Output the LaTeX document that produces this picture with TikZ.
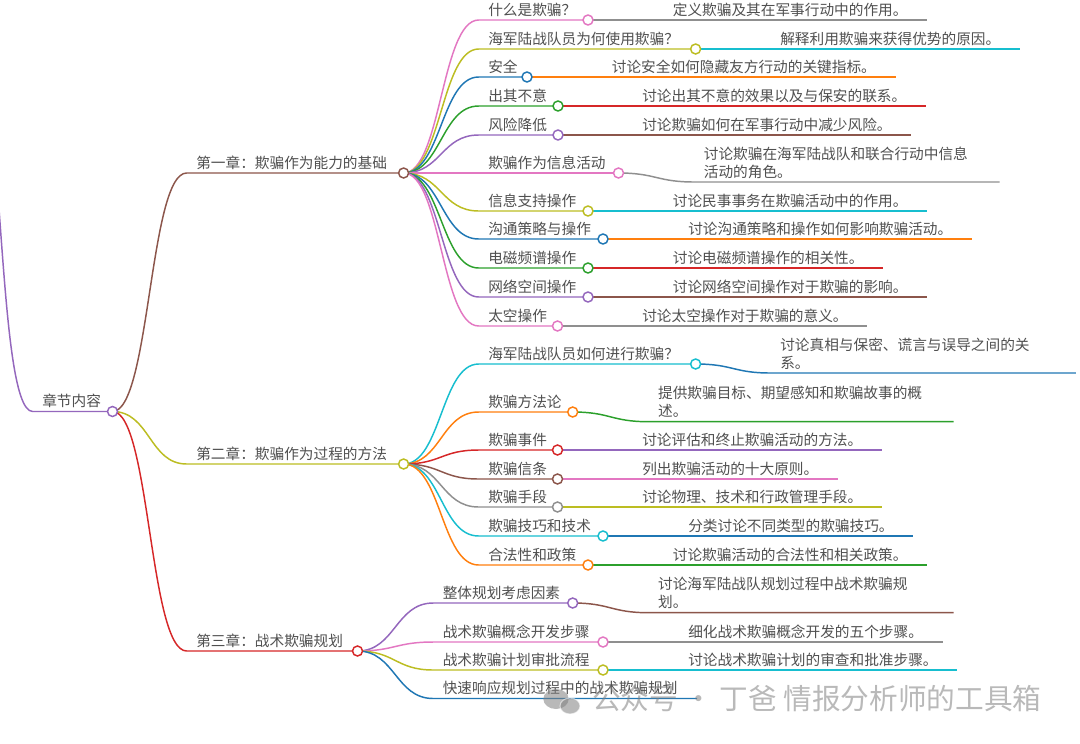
\documentclass[tikz,border=0pt]{standalone}
\usepackage{fontspec}
\newfontfamily\cjk{Noto Sans CJK SC}
\usetikzlibrary{backgrounds}

\definecolor{cblue}{HTML}{1F77B4}
\definecolor{corange}{HTML}{FF7F0E}
\definecolor{cgreen}{HTML}{2CA02C}
\definecolor{cred}{HTML}{D62728}
\definecolor{cpurple}{HTML}{9467BD}
\definecolor{cbrown}{HTML}{8C564B}
\definecolor{cpink}{HTML}{E377C2}
\definecolor{cgray}{HTML}{8F8F8F}
\definecolor{colive}{HTML}{BCBD22}
\definecolor{ccyan}{HTML}{17BECF}
\definecolor{txtgray}{HTML}{505050}

\tikzset{
	lbl/.style={anchor=south west, inner xsep=7pt, inner ysep=3.4pt, text depth=0pt,
		text=txtgray, font=\cjk\fontsize{11}{13.5}\selectfont},
	wrap/.style={lbl, text width=207pt, align=left, text depth=13.5pt},
	dot/.style={circle, draw=#1, fill=white, line width=1.1pt, minimum size=7.5pt, inner sep=0pt},
	lnk/.style={line width=1.1pt, draw=#1, to path={.. controls +(37.5,0) and +(-37.5,0) .. (\tikztotarget)}}
}

\begin{document}
\begin{tikzpicture}[x=0.75pt, y=-0.75pt]
	\useasboundingbox (0,0) rectangle (1080,743);
	% root and chapters
	\coordinate (up) at (-32,43);
	\node[lbl] (root) at (32.7,411.5) {章节内容};
	\node[dot=cpurple] (rooto) at (112.5,411.5) {};
	\node[lbl] (ch1) at (186.7,173) {第一章：欺骗作为能力的基础};
	\node[dot=cbrown] (ch1o) at (403.6,173) {};
	\node[lbl] (ch2) at (186.7,464) {第二章：欺骗作为过程的方法};
	\node[dot=colive] (ch2o) at (403.6,464) {};
	\node[lbl] (ch3) at (186.7,651) {第三章：战术欺骗规划};
	\node[dot=cred] (ch3o) at (357.5,651) {};
	% chapter 1
	\node[lbl] (s1) at (478.7,20) {什么是欺骗？};
	\node[dot=cpink] (s1o) at (588,20) {};
	\node[lbl] (s2) at (478.7,49) {海军陆战队员为何使用欺骗？};
	\node[dot=colive] (s2o) at (695.6,49) {};
	\node[lbl] (s3) at (478.7,77) {安全};
	\node[dot=cblue] (s3o) at (527,77) {};
	\node[lbl] (s4) at (478.7,106) {出其不意};
	\node[dot=cgreen] (s4o) at (558,106) {};
	\node[lbl] (s5) at (478.7,135) {风险降低};
	\node[dot=cpurple] (s5o) at (558,135) {};
	\node[lbl] (s6) at (478.7,173) {欺骗作为信息活动};
	\node[dot=cpink] (s6o) at (618.5,173) {};
	\node[lbl] (s7) at (478.7,211) {信息支持操作};
	\node[dot=colive] (s7o) at (588,211) {};
	\node[lbl] (s8) at (478.7,239) {沟通策略与操作};
	\node[dot=cblue] (s8o) at (603,239) {};
	\node[lbl] (s9) at (478.7,268) {电磁频谱操作};
	\node[dot=cgreen] (s9o) at (588,268) {};
	\node[lbl] (s10) at (478.7,297) {网络空间操作};
	\node[dot=cpurple] (s10o) at (588,297) {};
	\node[lbl] (s11) at (478.7,326) {太空操作};
	\node[dot=cpink] (s11o) at (557.5,326) {};
	\node[lbl] (s1d) at (663.3,20) {定义欺骗及其在军事行动中的作用。};
	\node[lbl] (s2d) at (770.7,49) {解释利用欺骗来获得优势的原因。};
	\node[lbl] (s3d) at (602.3,77) {讨论安全如何隐藏友方行动的关键指标。};
	\node[lbl] (s4d) at (632.7,106) {讨论出其不意的效果以及与保安的联系。};
	\node[lbl] (s5d) at (632.7,135) {讨论欺骗如何在军事行动中减少风险。};
	\node[wrap] (s6d) at (694.3,182) {讨论欺骗在海军陆战队和联合行动中信息\\活动的角色。};
	\node[lbl] (s7d) at (663.3,211) {讨论民事事务在欺骗活动中的作用。};
	\node[lbl] (s8d) at (678.7,239) {讨论沟通策略和操作如何影响欺骗活动。};
	\node[lbl] (s9d) at (663.3,268) {讨论电磁频谱操作的相关性。};
	\node[lbl] (s10d) at (663.3,297) {讨论网络空间操作对于欺骗的影响。};
	\node[lbl] (s11d) at (632.7,326) {讨论太空操作对于欺骗的意义。};
	% chapter 2
	\node[lbl] (m1) at (478.7,364) {海军陆战队员如何进行欺骗？};
	\node[dot=ccyan] (m1o) at (695.6,364) {};
	\node[lbl] (m2) at (478.7,412) {欺骗方法论};
	\node[dot=corange] (m2o) at (572.7,412) {};
	\node[lbl] (m3) at (478.7,450) {欺骗事件};
	\node[dot=cred] (m3o) at (557.5,450) {};
	\node[lbl] (m4) at (478.7,479) {欺骗信条};
	\node[dot=cbrown] (m4o) at (557.5,479) {};
	\node[lbl] (m5) at (478.7,507) {欺骗手段};
	\node[dot=cgray] (m5o) at (557.5,507) {};
	\node[lbl] (m6) at (478.7,536) {欺骗技巧和技术};
	\node[dot=ccyan] (m6o) at (603,536) {};
	\node[lbl] (m7) at (478.7,565) {合法性和政策};
	\node[dot=corange] (m7o) at (588,565) {};
	\node[wrap] (m1d) at (770.7,373) {讨论真相与保密、谎言与误导之间的关\\系。};
	\node[wrap] (m2d) at (648.5,421.7) {提供欺骗目标、期望感知和欺骗故事的概\\述。};
	\node[lbl] (m3d) at (632.7,450) {讨论评估和终止欺骗活动的方法。};
	\node[lbl] (m4d) at (632.7,479) {列出欺骗活动的十大原则。};
	\node[lbl] (m5d) at (632.7,507) {讨论物理、技术和行政管理手段。};
	\node[lbl] (m6d) at (678.7,536) {分类讨论不同类型的欺骗技巧。};
	\node[lbl] (m7d) at (663.3,565) {讨论欺骗活动的合法性和相关政策。};
	% chapter 3
	\node[lbl] (p1) at (433.2,603) {整体规划考虑因素};
	\node[dot=cpurple] (p1o) at (572.7,603) {};
	\node[lbl] (p2) at (433.2,642) {战术欺骗概念开发步骤};
	\node[dot=cpink] (p2o) at (603,642) {};
	\node[lbl] (p3) at (433.2,670) {战术欺骗计划审批流程};
	\node[dot=colive] (p3o) at (603,670) {};
	\node[lbl] (p4) at (433.2,698.5) {快速响应规划过程中的战术欺骗规划};
	\node[wrap] (p1d) at (648.5,612.7) {讨论海军陆战队规划过程中战术欺骗规\\划。};
	\node[lbl] (p2d) at (678.7,642) {细化战术欺骗概念开发的五个步骤。};
	\node[lbl] (p3d) at (678.7,670) {讨论战术欺骗计划的审查和批准步骤。};

	\begin{scope}[on background layer]
		\fill[white] (0,0) rectangle (1080,743);
		\draw[lnk=cpurple] (up) to (root.south west) -- (rooto.center);
		\draw[lnk=cbrown] (rooto.center) to (ch1.south west) -- (ch1o.center);
		\draw[lnk=colive] (rooto.center) to (ch2.south west) -- (ch2o.center);
		\draw[lnk=cred] (rooto.center) to (ch3.south west) -- (ch3o.center);

		\draw[lnk=cpink] (ch1o.center) to (s1.south west) -- (s1o.center);
		\draw[lnk=colive] (ch1o.center) to (s2.south west) -- (s2o.center);
		\draw[lnk=cblue] (ch1o.center) to (s3.south west) -- (s3o.center);
		\draw[lnk=cgreen] (ch1o.center) to (s4.south west) -- (s4o.center);
		\draw[lnk=cpurple] (ch1o.center) to (s5.south west) -- (s5o.center);
		\draw[lnk=cpink] (ch1o.center) to (s6.south west) -- (s6o.center);
		\draw[lnk=colive] (ch1o.center) to (s7.south west) -- (s7o.center);
		\draw[lnk=cblue] (ch1o.center) to (s8.south west) -- (s8o.center);
		\draw[lnk=cgreen] (ch1o.center) to (s9.south west) -- (s9o.center);
		\draw[lnk=cpurple] (ch1o.center) to (s10.south west) -- (s10o.center);
		\draw[lnk=cpink] (ch1o.center) to (s11.south west) -- (s11o.center);

		\draw[lnk=cgray] (s1o.center) to (s1d.south west) -- ([xshift=7.5pt]s1d.south east);
		\draw[lnk=ccyan] (s2o.center) to (s2d.south west) -- ([xshift=7.5pt]s2d.south east);
		\draw[lnk=corange] (s3o.center) to (s3d.south west) -- ([xshift=7.5pt]s3d.south east);
		\draw[lnk=cred] (s4o.center) to (s4d.south west) -- ([xshift=7.5pt]s4d.south east);
		\draw[lnk=cbrown] (s5o.center) to (s5d.south west) -- ([xshift=7.5pt]s5d.south east);
		\draw[lnk=cgray] (s6o.center) to (s6d.south west) -- ([xshift=7.5pt]s6d.south east);
		\draw[lnk=ccyan] (s7o.center) to (s7d.south west) -- ([xshift=7.5pt]s7d.south east);
		\draw[lnk=corange] (s8o.center) to (s8d.south west) -- ([xshift=7.5pt]s8d.south east);
		\draw[lnk=cred] (s9o.center) to (s9d.south west) -- ([xshift=7.5pt]s9d.south east);
		\draw[lnk=cbrown] (s10o.center) to (s10d.south west) -- ([xshift=7.5pt]s10d.south east);
		\draw[lnk=cgray] (s11o.center) to (s11d.south west) -- ([xshift=7.5pt]s11d.south east);

		\draw[lnk=ccyan] (ch2o.center) to (m1.south west) -- (m1o.center);
		\draw[lnk=corange] (ch2o.center) to (m2.south west) -- (m2o.center);
		\draw[lnk=cred] (ch2o.center) to (m3.south west) -- (m3o.center);
		\draw[lnk=cbrown] (ch2o.center) to (m4.south west) -- (m4o.center);
		\draw[lnk=cgray] (ch2o.center) to (m5.south west) -- (m5o.center);
		\draw[lnk=ccyan] (ch2o.center) to (m6.south west) -- (m6o.center);
		\draw[lnk=corange] (ch2o.center) to (m7.south west) -- (m7o.center);

		\draw[lnk=cblue] (m1o.center) to (m1d.south west) -- ([xshift=7.5pt]m1d.south east);
		\draw[lnk=cgreen] (m2o.center) to (m2d.south west) -- ([xshift=7.5pt]m2d.south east);
		\draw[lnk=cpurple] (m3o.center) to (m3d.south west) -- ([xshift=7.5pt]m3d.south east);
		\draw[lnk=cpink] (m4o.center) to (m4d.south west) -- ([xshift=7.5pt]m4d.south east);
		\draw[lnk=colive] (m5o.center) to (m5d.south west) -- ([xshift=7.5pt]m5d.south east);
		\draw[lnk=cblue] (m6o.center) to (m6d.south west) -- ([xshift=7.5pt]m6d.south east);
		\draw[lnk=cgreen] (m7o.center) to (m7d.south west) -- ([xshift=7.5pt]m7d.south east);

		\draw[lnk=cpurple] (ch3o.center) to (p1.south west) -- (p1o.center);
		\draw[lnk=cpink] (ch3o.center) to (p2.south west) -- (p2o.center);
		\draw[lnk=colive] (ch3o.center) to (p3.south west) -- (p3o.center);
		\draw[lnk=cblue] (ch3o.center) to (p4.south west) -- ([xshift=7.5pt]p4.south east);

		\draw[lnk=cbrown] (p1o.center) to (p1d.south west) -- ([xshift=7.5pt]p1d.south east);
		\draw[lnk=cgray] (p2o.center) to (p2d.south west) -- ([xshift=7.5pt]p2d.south east);
		\draw[lnk=ccyan] (p3o.center) to (p3d.south west) -- ([xshift=7.5pt]p3d.south east);
	\end{scope}

	% watermark
	\fill[gray, opacity=0.55] (556,699) ellipse [x radius=9.5pt, y radius=7.5pt];
	\filldraw[gray, opacity=0.55, draw=white, line width=0.8pt] (570,706) ellipse [x radius=7.5pt, y radius=6pt];
	\node[anchor=base west, inner sep=0pt, text=gray, text opacity=0.55,
		font=\cjk\fontsize{21.5}{24}\selectfont] (mark) at (592,709) {公众号 · 丁爸 情报分析师的工具箱};
\end{tikzpicture}
\end{document}
